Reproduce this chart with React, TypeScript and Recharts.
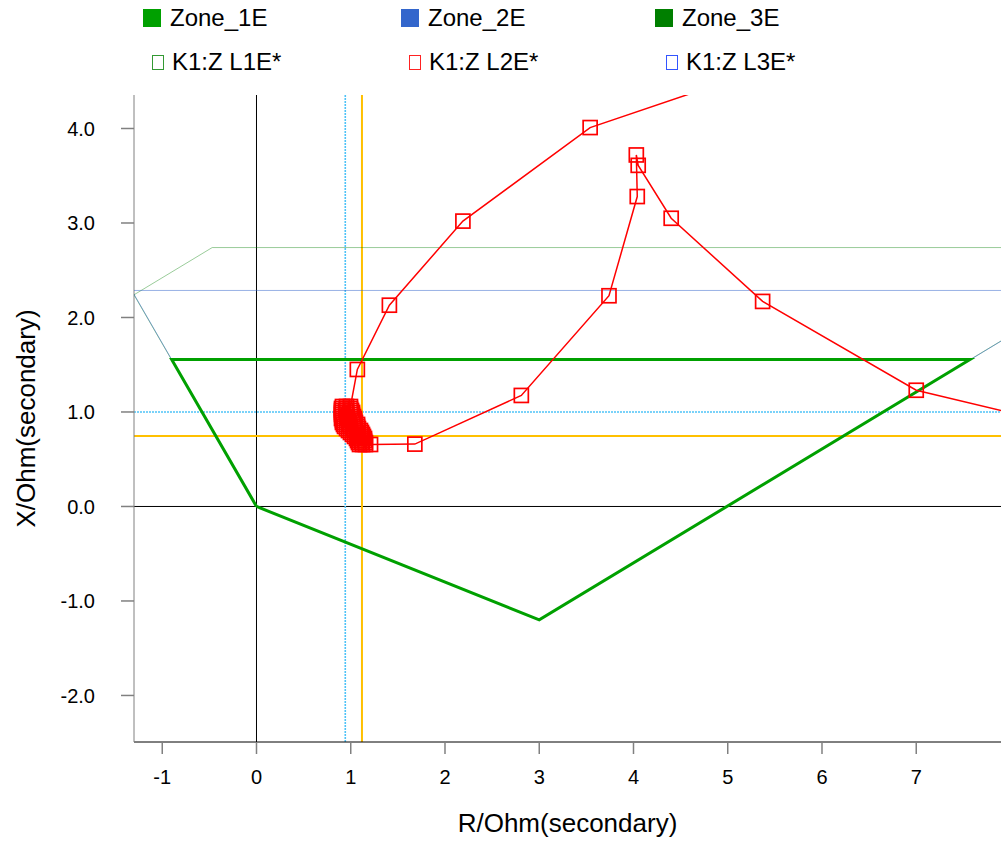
import React from "react";
import { ScatterChart, Scatter, XAxis, YAxis, ReferenceLine, Legend } from "recharts";

const FONT = "'Liberation Sans', Arial, Helvetica, sans-serif";

const xTicks = [-1, 0, 1, 2, 3, 4, 5, 6, 7];
const yTicks = [-2, -1, 0, 1, 2, 3, 4];

// zone polygons (R, X in secondary ohms)
const zone1E = [
  { r: 0, x: 0 },
  { r: 3.0, x: -1.2 },
  { r: 7.57, x: 1.555 },
  { r: -0.9, x: 1.555 },
  { r: 0, x: 0 },
];
const zone2E = [
  { r: 0, x: 0 },
  { r: 3.0, x: -1.2 },
  { r: 8.79, x: 2.286 },
  { r: -1.323, x: 2.286 },
  { r: 0, x: 0 },
];
const zone3E = [
  { r: 0, x: 0 },
  { r: 3.0, x: -1.2 },
  { r: 9.54, x: 2.74 },
  { r: -0.47, x: 2.74 },
  { r: -1.3, x: 2.24 },
  { r: 0, x: 0 },
];

// K1:Z L2E* – approach from load area down to the fault
const approachL2E = [
  { r: 8.6, x: 0.85 },
  { r: 7.0, x: 1.23 },
  { r: 5.37, x: 2.17 },
  { r: 4.4, x: 3.05 },
  { r: 4.05, x: 3.61 },
  { r: 4.03, x: 3.72 },
  { r: 4.04, x: 3.28 },
  { r: 3.74, x: 2.23 },
  { r: 2.81, x: 1.175 },
  { r: 1.68, x: 0.66 },
  { r: 1.21, x: 0.656 },
];

// samples during the fault, by reactance row (bottom to top)
const faultX = [0.656, 0.677, 0.698, 0.72, 0.741, 0.762, 0.783, 0.804, 0.825, 0.847,
  0.868, 0.889, 0.91, 0.931, 0.952, 0.974, 0.995, 1.016, 1.037, 1.058];
const faultR = [
  [1.093, 1.125, 1.156],
  [1.082, 1.114, 1.156],
  [1.072, 1.114, 1.146],
  [1.061, 1.103, 1.146],
  [1.04, 1.082, 1.135],
  [1.019, 1.072, 1.125],
  [0.997, 1.061, 1.114],
  [0.976, 1.04, 1.103],
  [0.955, 1.029, 1.082],
  [0.934, 0.997, 1.072],
  [0.923, 0.987, 1.072],
  [0.912, 0.987, 1.05],
  [0.912, 0.976, 1.04],
  [0.902, 0.966, 1.04],
  [0.912, 0.966, 1.029],
  [0.902, 0.955, 1.019],
  [0.902, 0.955, 1.019],
  [0.902, 0.944, 1.008],
  [0.902, 0.955, 0.997],
  [0.912, 0.955, 0.997],
];

// after the fault
const departL2E = [
  { r: 1.07, x: 1.45 },
  { r: 1.41, x: 2.13 },
  { r: 2.19, x: 3.02 },
  { r: 3.54, x: 4.01 },
  { r: 5.2, x: 4.57 },
];

const faultL2E = faultX.flatMap((x, i) => {
  const row = faultR[i].map((r) => ({ r, x }));
  return i % 2 === 0 ? row.slice().reverse() : row;
});
const traceL2E = [...approachL2E, ...faultL2E, ...departL2E];

const refR = { cyan: 0.942, yellow: 1.119 };
const refX = { cyan: 1.0, yellow: 0.746 };

const legendRow1 = [
  { label: "Zone_1E", color: "#00a000", left: 143 },
  { label: "Zone_2E", color: "#3366cc", left: 401 },
  { label: "Zone_3E", color: "#007f00", left: 655 },
];
const legendRow2 = [
  { label: "K1:Z L1E*", color: "#339933", left: 152 },
  { label: "K1:Z L2E*", color: "#ff2222", left: 409 },
  { label: "K1:Z L3E*", color: "#3355ff", left: 666 },
];

function HollowSquare(props: any) {
  const { cx, cy } = props;
  if (cx == null || cy == null) return null;
  return (
    <rect x={cx - 7} y={cy - 7} width={14} height={14} fill="none" stroke="#ff0000" strokeWidth={1.7} />
  );
}

const NoShape = () => <g />;

function renderLegend() {
  return (
    <div style={{ position: "relative", width: 1001, height: 90, fontFamily: FONT }}>
      {legendRow1.map((it) => (
        <div key={it.label} style={{ position: "absolute", left: it.left, top: 4, height: 28, display: "flex", alignItems: "center" }}>
          <span style={{ display: "inline-block", width: 18, height: 18, background: it.color }} />
          <span style={{ marginLeft: 9, fontSize: 24, color: "#000" }}>{it.label}</span>
        </div>
      ))}
      {legendRow2.map((it) => (
        <div key={it.label} style={{ position: "absolute", left: it.left, top: 48, height: 28, display: "flex", alignItems: "center" }}>
          <span style={{ display: "inline-block", width: 10, height: 13, border: `1px solid ${it.color}` }} />
          <span style={{ marginLeft: 8, fontSize: 24, color: "#000" }}>{it.label}</span>
        </div>
      ))}
    </div>
  );
}

function renderYLabel(props: any) {
  const vb = props.viewBox || { y: 95, height: 647 };
  const cx = 26;
  const cy = vb.y + vb.height / 2;
  return (
    <text x={cx} y={cy} transform={`rotate(-90 ${cx} ${cy})`} textAnchor="middle" dominantBaseline="central" fontSize={26} fontFamily={FONT} fill="#000">
      X/Ohm(secondary)
    </text>
  );
}

function renderXLabel(props: any) {
  const vb = props.viewBox || { x: 134, width: 867 };
  return (
    <text x={vb.x + vb.width / 2} y={832} textAnchor="middle" fontSize={26} fontFamily={FONT} fill="#000">
      R/Ohm(secondary)
    </text>
  );
}

export default function App() {
  return (
    <div style={{ position: "absolute", left: 0, top: 0, width: 1001, height: 841, background: "#fff" }}>
      <ScatterChart width={1001} height={841} margin={{ top: 95, right: 0, bottom: 0, left: 0 }}>
        <XAxis
          type="number"
          dataKey="r"
          domain={[-1.2997, 7.8993]}
          allowDataOverflow
          ticks={xTicks}
          interval={0}
          height={99}
          tickSize={12}
          tickMargin={16}
          tick={{ fontSize: 20, fill: "#000", fontFamily: FONT }}
          tickLine={{ stroke: "#808080", strokeWidth: 1.5 }}
          axisLine={{ stroke: "#000" }}
          label={{ content: renderXLabel }}
        />
        <YAxis
          type="number"
          dataKey="x"
          domain={[-2.4925, 4.3545]}
          allowDataOverflow
          ticks={yTicks}
          interval={0}
          width={134}
          tickSize={13}
          tickMargin={26}
          tickFormatter={(v: number) => v.toFixed(1)}
          tick={{ fontSize: 20, fill: "#000", fontFamily: FONT }}
          tickLine={{ stroke: "#808080", strokeWidth: 1.5 }}
          axisLine={{ stroke: "#808080" }}
          label={{ content: renderYLabel }}
        />
        <ReferenceLine x={0} stroke="#000" strokeWidth={1} />
        <ReferenceLine y={0} stroke="#000" strokeWidth={1} />
        <ReferenceLine x={refR.cyan} stroke="#4fc3f7" strokeWidth={1.6} strokeDasharray="2 1" />
        <ReferenceLine y={refX.cyan} stroke="#4fc3f7" strokeWidth={1.6} strokeDasharray="2 1" />
        <ReferenceLine x={refR.yellow} stroke="#ffc000" strokeWidth={2} />
        <ReferenceLine y={refX.yellow} stroke="#ffc000" strokeWidth={2} />
        <Scatter name="Zone_3E" data={zone3E} fill="#008000" line={{ stroke: "#008000", strokeWidth: 1, strokeOpacity: 0.4 }} shape={NoShape} isAnimationActive={false} />
        <Scatter name="Zone_2E" data={zone2E} fill="#3366cc" line={{ stroke: "#3366cc", strokeWidth: 1, strokeOpacity: 0.5 }} shape={NoShape} isAnimationActive={false} />
        <Scatter name="Zone_1E" data={zone1E} fill="#00a000" line={{ stroke: "#00a000", strokeWidth: 3 }} shape={NoShape} isAnimationActive={false} />
        <Scatter name="K1:Z L2E*" data={traceL2E} fill="#ff0000" line={{ stroke: "#ff0000", strokeWidth: 1.5 }} shape={HollowSquare} isAnimationActive={false} />
        <Legend
          layout="horizontal"
          verticalAlign="middle"
          align="center"
          content={renderLegend}
          wrapperStyle={{ top: 0, left: 0, width: 1001, height: 90 }}
        />
      </ScatterChart>
    </div>
  );
}
